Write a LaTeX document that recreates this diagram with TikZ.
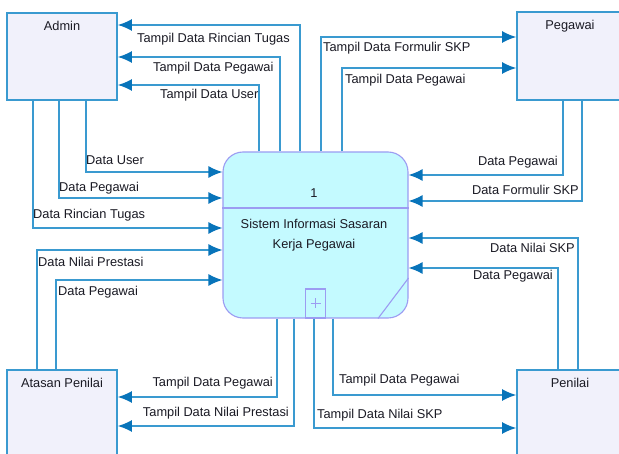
\documentclass[tikz,border=0pt]{standalone}
\usepackage{fontspec}
\setmainfont{Liberation Sans}
\usetikzlibrary{arrows.meta,calc}
\definecolor{linec}{HTML}{3A9AD0}
\definecolor{tipc}{HTML}{0874BA}
\definecolor{boxfill}{HTML}{F1F1FB}
\definecolor{procfill}{HTML}{C4FAFF}
\definecolor{procline}{HTML}{9C9CF2}
\definecolor{txt}{HTML}{1A1A24}
\tikzset{
  ext/.style={draw=linec, line width=1.8pt, fill=boxfill, minimum width=110pt, inner sep=0pt},
  extlabel/.style={font=\fontsize{12.8}{14}\selectfont, text=txt, anchor=north, inner sep=0pt},
  flow/.style={draw=linec, line width=1.4pt, -{Latex[length=14pt,width=12pt,color=tipc,fill=tipc]}},
  lbl/.style={font=\fontsize{12.8}{14}\selectfont, text=txt, inner sep=0pt, anchor=west},
  proctxt/.style={font=\fontsize{12.8}{14}\selectfont, text=txt, inner sep=0pt}
}
\begin{document}
\begin{tikzpicture}[x=1pt,y=-1pt]
\clip (0,0) rectangle (619,454);
\fill[white] (0,0) rectangle (619,454);
% external entities
\node[ext, minimum height=87pt] (admin) at (62,56.5) {};
\node[extlabel] (adminL) at (62,21) {Admin};
\node[ext, minimum height=88pt] (pegawai) at (572,56) {};
\node[extlabel] (pegawaiL) at (570,20) {Pegawai};
\node[ext, minimum height=87pt] (atasan) at (62,413.5) {};
\node[extlabel] (atasanL) at (62,378) {Atasan Penilai};
\node[ext, minimum height=87pt] (penilai) at (572,413.5) {};
\node[extlabel] (penilaiL) at (570,378) {Penilai};
% process
\node[draw=procline, line width=1.1pt, fill=procfill, rounded corners=20pt,
      minimum width=185pt, minimum height=166pt, inner sep=0pt] (proc) at (315.5,235) {};
\draw[procline, line width=1.1pt] ($(proc.west)+(0,-27)$) -- ($(proc.east)+(0,-27)$);
\node[proctxt] (pnum) at (314,193) {1};
\node[proctxt] (pname1) at (314,224) {Sistem Informasi Sasaran};
\node[proctxt] (pname2) at (314,245) {Kerja Pegawai};
\node[draw=procline, line width=1.1pt, minimum width=20pt, minimum height=29pt, inner sep=0pt, anchor=south] (plus) at (proc.south) {};
\draw[procline, line width=0.9pt] ($(plus.center)+(-5,0)$) -- ($(plus.center)+(5,0)$)
      ($(plus.center)+(0,-5)$) -- ($(plus.center)+(0,5)$);
\draw[procline, line width=1.1pt] ($(proc.south)+(62.5,0)$) -- ($(proc.east)+(0,43)$);
% Admin flows
\draw[flow] ($(proc.north)+(-15.5,0)$) |- ($(admin.east)+(0,-31.5)$);
\draw[flow] ($(proc.north)+(-35.5,0)$) |- ($(admin.east)+(0,0.5)$);
\draw[flow] ($(proc.north)+(-56.5,0)$) |- ($(admin.east)+(0,28.5)$);
\draw[flow] ($(admin.south)+(24,0)$) |- ($(proc.west)+(0,-63)$);
\draw[flow] ($(admin.south)+(-3,0)$) |- ($(proc.west)+(0,-37)$);
\draw[flow] ($(admin.south)+(-29,0)$) |- ($(proc.west)+(0,-7)$);
% Atasan flows
\draw[flow] ($(atasan.north)+(-25,0)$) |- ($(proc.west)+(0,15)$);
\draw[flow] ($(atasan.north)+(-6,0)$) |- ($(proc.west)+(0,45)$);
\draw[flow] ($(proc.south)+(-38.5,0)$) |- ($(atasan.east)+(0,-16.5)$);
\draw[flow] ($(proc.south)+(-21.5,0)$) |- ($(atasan.east)+(0,12.5)$);
% Penilai flows
\draw[flow] ($(penilai.north)+(6,0)$) |- ($(proc.east)+(0,3)$);
\draw[flow] ($(penilai.north)+(-14,0)$) |- ($(proc.east)+(0,33)$);
\draw[flow] ($(proc.south)+(17.5,0)$) |- ($(penilai.west)+(0,-18.5)$);
\draw[flow] ($(proc.south)+(-1.5,0)$) |- ($(penilai.west)+(0,14.5)$);
% Pegawai flows
\draw[flow] ($(pegawai.south)+(-9,0)$) |- ($(proc.east)+(0,-60)$);
\draw[flow] ($(pegawai.south)+(10,0)$) |- ($(proc.east)+(0,-34)$);
\draw[flow] ($(proc.north)+(5.5,0)$) |- ($(pegawai.west)+(0,-19)$);
\draw[flow] ($(proc.north)+(26.5,0)$) |- ($(pegawai.west)+(0,12)$);
% labels
\node[lbl] (l1) at (137,39) {Tampil Data Rincian Tugas};
\node[lbl] (l2) at (153,68) {Tampil Data Pegawai};
\node[lbl] (l3) at (160,95) {Tampil Data User};
\node[lbl] (l4) at (86,160) {Data User};
\node[lbl] (l5) at (59,188) {Data Pegawai};
\node[lbl] (l6) at (33,215) {Data Rincian Tugas};
\node[lbl] (l7) at (38,262) {Data Nilai Prestasi};
\node[lbl] (l8) at (58,292) {Data Pegawai};
\node[lbl, anchor=east] (l9) at (273,383) {Tampil Data Pegawai};
\node[lbl, anchor=east] (l10) at (289,413) {Tampil Data Nilai Prestasi};
\node[lbl] (l11) at (339,380) {Tampil Data Pegawai};
\node[lbl] (l12) at (317,415) {Tampil Data Nilai SKP};
\node[lbl, anchor=east] (l13) at (575,248) {Data Nilai SKP};
\node[lbl, anchor=east] (l14) at (553,276) {Data Pegawai};
\node[lbl, anchor=east] (l15) at (558,162) {Data Pegawai};
\node[lbl, anchor=east] (l16) at (579,190) {Data Formulir SKP};
\node[lbl] (l17) at (323,48) {Tampil Data Formulir SKP};
\node[lbl] (l18) at (345,80) {Tampil Data Pegawai};
\end{tikzpicture}
\end{document}
